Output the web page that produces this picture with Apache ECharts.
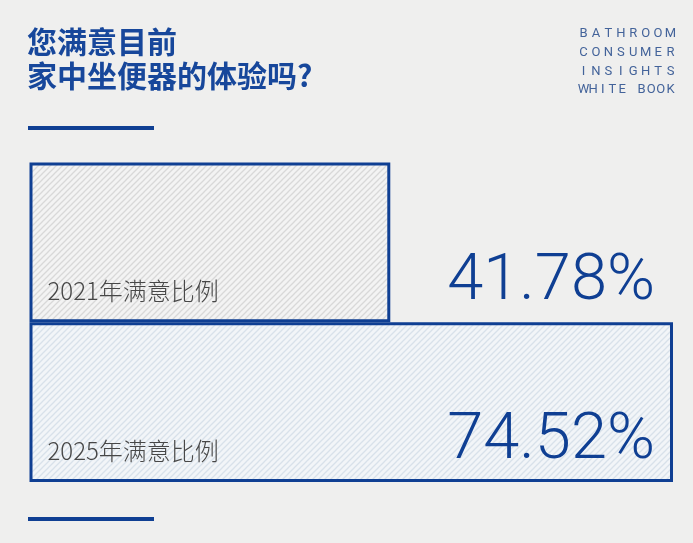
<!DOCTYPE html>
<html>
<head>
<meta charset="utf-8">
<script src="https://cdn.jsdelivr.net/npm/echarts@6/dist/echarts.min.js"></script>
<style>
html,body{margin:0;padding:0;background:#efefee;}
#main{width:693px;height:543px;}
</style>
</head>
<body>
<div id="main"></div>
<script>
// ---- data ----
var categories = ['2021年满意比例', '2025年满意比例'];
var values = [41.78, 74.52];
var titleLines = ['您满意目前', '家中坐便器的体验吗?'];
var brandLines = ['BATHROOM', 'CONSUMER', 'INSIGHTS', 'WHITE BOOK'];

var BLUE = '#0f3f93';
var XMAX = Math.max.apply(null, values);

function hatch(bg, line) {
  var s = 6, c = document.createElement('canvas');
  c.width = s; c.height = s;
  var g = c.getContext('2d');
  g.fillStyle = bg; g.fillRect(0, 0, s, s);
  g.strokeStyle = line; g.lineWidth = 1.3;
  g.beginPath();
  g.moveTo(-1, s + 1); g.lineTo(s + 1, -1);
  g.moveTo(-1, 1); g.lineTo(1, -1);
  g.moveTo(s - 1, s + 1); g.lineTo(s + 1, s - 1);
  g.stroke();
  return { image: c, repeat: 'repeat' };
}
var fills = [hatch('#f3f3f3', '#d8d8d8'), hatch('#f2f5f8', '#d8e1ea')];

var graphics = [];
// title
graphics.push({
  type: 'text', left: 27, top: 25,
  style: {
    text: titleLines.join('\n'), fill: '#17479b',
    font: 'bold 30px "Noto Sans CJK SC", sans-serif', lineHeight: 34
  }
});
// decorative bars
graphics.push({ type: 'rect', shape: { x: 28, y: 126, width: 126, height: 4 }, style: { fill: BLUE } });
graphics.push({ type: 'rect', shape: { x: 28, y: 517, width: 126, height: 4 }, style: { fill: BLUE } });
// brand text, justified letter by letter
var bx0 = 579, bx1 = 675, by = [34, 53, 71.5, 90];
brandLines.forEach(function (ln, li) {
  var n = ln.length;
  var c0 = bx0 + 4.5, c1 = bx1 - 4.5;
  for (var i = 0; i < n; i++) {
    var ch = ln[i];
    if (ch === ' ') continue;
    graphics.push({
      type: 'text',
      x: c0 + (c1 - c0) * i / (n - 1), y: by[li],
      style: {
        text: ch, fill: '#43639a', font: '13px Roboto, sans-serif',
        textAlign: 'center', textVerticalAlign: 'middle'
      }
    });
  }
});

var chart = echarts.init(document.getElementById('main'), null, { renderer: 'canvas' });
chart.setOption({
  backgroundColor: '#efefee',
  animation: false,
  grid: { left: 29.5, top: 162.5, width: 643.5, height: 319.5 },
  xAxis: { type: 'value', min: 0, max: XMAX, show: false },
  yAxis: { type: 'category', data: categories, inverse: true, show: false },
  graphic: graphics,
  series: [
    {
      type: 'bar', barWidth: '100%', barGap: '-100%',
      data: values.map(function (v, i) {
        return { value: v, itemStyle: { color: fills[i] } };
      }),
      itemStyle: { borderColor: BLUE, borderWidth: 3 },
      label: {
        show: true, position: 'insideBottomLeft', distance: 18,
        formatter: function (p) { return categories[p.dataIndex]; },
        color: '#474747', fontSize: 24, fontWeight: 300, lineHeight: 26,
        fontFamily: '"Noto Sans CJK SC", sans-serif'
      },
      silent: true
    },
    {
      type: 'bar', barWidth: '100%', barGap: '-100%',
      data: values.map(function () { return XMAX; }),
      itemStyle: { color: 'rgba(0,0,0,0)' },
      label: {
        show: true, position: 'insideBottomRight', distance: 18,
        formatter: function (p) { return values[p.dataIndex].toFixed(2) + '%'; },
        color: BLUE, fontSize: 65, fontWeight: 300, lineHeight: 44,
        fontFamily: 'Roboto, sans-serif'
      },
      silent: true
    }
  ]
});
</script>
</body>
</html>
